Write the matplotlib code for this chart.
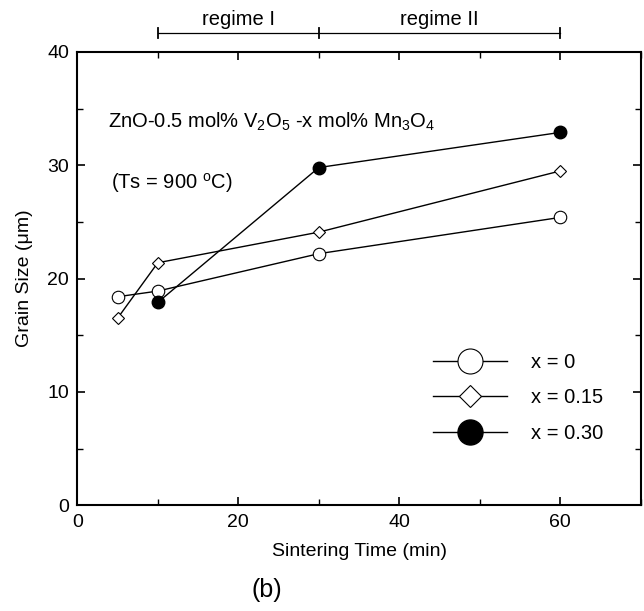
import matplotlib
matplotlib.use('Agg')
import matplotlib.pyplot as plt
from matplotlib.ticker import MultipleLocator

plt.rcParams['font.family'] = ['Liberation Sans', 'DejaVu Sans']
plt.rcParams['mathtext.fontset'] = 'custom'
plt.rcParams['mathtext.rm'] = 'Liberation Sans'

# data
t_x0 = [5, 10, 30, 60]
g_x0 = [18.4, 18.9, 22.2, 25.4]
t_x015 = [5, 10, 30, 60]
g_x015 = [16.5, 21.4, 24.1, 29.5]
t_x030 = [10, 30, 60]
g_x030 = [17.9, 29.8, 32.9]
series_labels = ['x = 0', 'x = 0.15', 'x = 0.30']
regime_edges = [10, 30, 60]
regime_names = ['regime I', 'regime II']


def main():
    fig = plt.figure(figsize=(6.44, 6.11), dpi=100)
    ax = fig.add_axes([0.12, 0.173, 0.875, 0.742])

    ax.plot(t_x0, g_x0, '-', color='black', lw=1, marker='o', ms=9,
            mfc='white', mec='black', mew=0.8, label=series_labels[0])
    ax.plot(t_x015, g_x015, '-', color='black', lw=1, marker='D', ms=5.8,
            mfc='white', mec='black', mew=0.8, label=series_labels[1])
    ax.plot(t_x030, g_x030, '-', color='black', lw=1, marker='o', ms=9,
            mfc='black', mec='black', label=series_labels[2])

    ax.set_xlim(0, 70)
    ax.set_ylim(0, 40)
    ax.xaxis.set_major_locator(MultipleLocator(20))
    ax.xaxis.set_minor_locator(MultipleLocator(10))
    ax.yaxis.set_major_locator(MultipleLocator(10))
    ax.yaxis.set_minor_locator(MultipleLocator(5))
    ax.tick_params(which='both', direction='in', top=True, right=True,
                   labelsize=14, pad=6)
    ax.tick_params(which='major', length=6, width=1.2)
    ax.tick_params(which='minor', length=4, width=1)
    for s in ax.spines.values():
        s.set_linewidth(1.5)

    ax.set_xlabel('Sintering Time (min)', fontsize=14, labelpad=9)
    ax.set_ylabel('Grain Size (μm)', fontsize=14, labelpad=10)

    ax.text(3.8, 33.8, 'ZnO-0.5 mol% V$_2$O$_5$ -x mol% Mn$_3$O$_4$', fontsize=14.5,
            va='center')
    ax.text(4.2, 28.4, '(Ts = 900 $^{\\mathrm{o}}$C)', fontsize=14.5, va='center')

    # regime brackets above the axes
    yb = 41.7
    ax.plot([regime_edges[0], regime_edges[-1]], [yb, yb], color='black', lw=0.9,
            clip_on=False)
    for e in regime_edges:
        ax.plot([e, e], [yb - 0.45, yb + 0.45], color='black', lw=1.3, clip_on=False)
    for i, name in enumerate(regime_names):
        xm = (regime_edges[i] + regime_edges[i + 1]) / 2
        ax.text(xm, yb + 0.3, name, ha='center', va='bottom', fontsize=14.5)

    ax.legend(loc='upper left', bbox_to_anchor=(0.631, 0.336), frameon=False,
              fontsize=14.5, markerscale=2.0, handlelength=3.7,
              labelspacing=0.82, handletextpad=1.15, borderpad=0, borderaxespad=0)

    fig.text(0.415, 0.035, '(b)', fontsize=18, ha='center', va='center')

    plt.savefig('out.png', dpi=100)
    plt.close()


if __name__ == '__main__':
    main()
